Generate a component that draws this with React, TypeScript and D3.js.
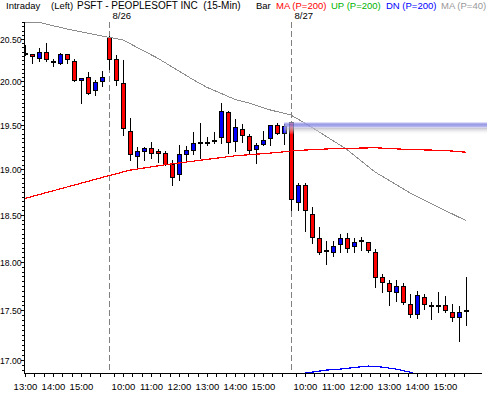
import { useEffect, useRef } from "react";
import * as d3 from "d3";

// 15-min bars: 8/25 from 13:00, 8/26 and 8/27 full sessions
const opens = [
  20.33, 20.32, 20.28, 20.34, 20.24, 20.21, 20.32, 20.24, 20.01, 20.05, 19.9, 20.0,
  20.52, 20.26, 19.98, 19.43, 19.15, 19.2, 19.24, 19.2, 19.18, 19.06, 18.95, 19.17, 19.22, 19.3,
  19.31, 19.33, 19.36, 19.64, 19.32, 19.45, 19.37, 19.23, 19.28, 19.35, 19.5, 19.41,
  19.53, 18.64, 18.83, 18.51, 18.25, 18.13, 18.11, 18.19, 18.25, 18.17, 18.23, 18.21, 18.1,
  17.84, 17.78, 17.69, 17.75, 17.56, 17.46, 17.64, 17.55, 17.55, 17.55, 17.48, 17.43, 17.5,
];
const highs = [
  20.43, 20.32, 20.39, 20.45, 20.26, 20.33, 20.32, 20.26, 20.04, 20.11, 20.02, 20.12,
  20.53, 20.31, 20.25, 19.58, 19.25, 19.25, 19.3, 19.23, 19.2, 19.1, 19.27, 19.26, 19.42, 19.52,
  19.36, 19.42, 19.75, 19.66, 19.56, 19.51, 19.4, 19.29, 19.43, 19.5, 19.52, 19.51,
  19.53, 18.85, 18.85, 18.59, 18.37, 18.22, 18.22, 18.3, 18.31, 18.25, 18.26, 18.21, 18.14,
  17.87, 17.81, 17.81, 17.78, 17.67, 17.7, 17.67, 17.58, 17.69, 17.65, 17.56, 17.54, 17.84,
];
const lows = [
  20.31, 20.21, 20.24, 20.24, 20.18, 20.2, 20.21, 20.0, 19.75, 19.85, 19.84, 19.94,
  20.15, 19.96, 19.38, 19.1, 19.0, 19.1, 19.13, 19.08, 19.05, 18.83, 18.88, 19.08, 19.17, 19.13,
  19.27, 19.29, 19.29, 19.18, 19.2, 19.31, 19.17, 19.07, 19.27, 19.27, 19.4, 19.28,
  18.55, 18.55, 18.33, 18.2, 18.08, 17.98, 18.06, 18.1, 18.1, 18.11, 18.13, 18.1, 17.74,
  17.69, 17.55, 17.6, 17.56, 17.43, 17.42, 17.51, 17.41, 17.48, 17.48, 17.39, 17.19, 17.35,
];
const closes = [
  20.32, 20.3, 20.34, 20.26, 20.24, 20.32, 20.26, 20.01, 20.04, 19.87, 19.99, 20.05,
  20.26, 20.02, 19.46, 19.17, 19.2, 19.24, 19.18, 19.18, 19.06, 18.92, 19.17, 19.21, 19.29, 19.3,
  19.3, 19.33, 19.66, 19.31, 19.47, 19.38, 19.22, 19.27, 19.33, 19.5, 19.41, 19.49,
  18.67, 18.83, 18.55, 18.26, 18.11, 18.13, 18.17, 18.25, 18.15, 18.21, 18.23, 18.13, 17.84,
  17.79, 17.7, 17.75, 17.58, 17.46, 17.66, 17.56, 17.55, 17.55, 17.5, 17.43, 17.48, 17.5,
];

// [bar index, value]
const ma200 = [[0, 18.68], [12, 18.93], [15, 18.99], [20, 19.05], [25, 19.1], [30, 19.15], [35, 19.18], [39, 19.21], [44, 19.23], [50, 19.24], [55, 19.22], [60, 19.21], [63, 19.19]];
const ma40 = [[0, 20.7], [2, 20.7], [6, 20.62], [12, 20.52], [14, 20.49], [16, 20.4], [19, 20.27], [24, 20.02], [26, 19.93], [30, 19.79], [32, 19.75], [35, 19.67], [38, 19.61], [41, 19.47], [46, 19.22], [50, 18.97], [55, 18.74], [60, 18.55], [63, 18.44]];
const dnBand = [[38, 16.8], [40, 16.87], [41, 16.88], [43, 16.9], [45, 16.91], [47, 16.925], [49, 16.94], [51, 16.93], [53, 16.91], [55, 16.88], [56, 16.86], [58, 16.82]];
const levelPrice = 19.5;
const levelFromBar = 37;

const dayStarts = [0, 12, 38];
const dayOpenMin = [13 * 60, 9 * 60 + 30, 9 * 60 + 30];
const dayLabels = ["", "8/26", "8/27"];
const hourLabels = [
  ["13:00", "14:00", "15:00"],
  ["10:00", "11:00", "12:00", "13:00", "14:00", "15:00"],
  ["10:00", "11:00", "12:00", "13:00", "14:00", "15:00"],
];
const priceTicks = [17.0, 17.5, 18.0, 18.5, 19.0, 19.5, 20.0, 20.5];
const legendItems = [
  { text: "Bar", color: "#000000" },
  { text: "MA (P=200)", color: "#ff0000" },
  { text: "UP (P=200)", color: "#00b400" },
  { text: "DN (P=200)", color: "#0000ff" },
  { text: "MA (P=40)", color: "#999999" },
];

export default function App() {
  const ref = useRef<SVGSVGElement>(null);

  useEffect(() => {
    const W = 487, H = 393;
    const left = 25, top = 22, bottom = 373, axisEnd = 482;
    const font = "'Liberation Sans Narrow', 'Arial Narrow', 'Liberation Sans', sans-serif";
    const svg = d3.select(ref.current);
    svg.selectAll("*").remove();

    const x = d3.scaleLinear().domain([0, 65]).range([25, 480]);
    const y = d3.scaleLog().domain([17, 20.5]).range([360, 39]);
    const px = (i: number) => Math.round(x(i));
    const py = (v: number) => Math.round(y(v));

    svg.append("rect").attr("width", W).attr("height", H).attr("fill", "#fff");

    const defs = svg.append("defs");
    defs.append("clipPath").attr("id", "plotClip")
      .append("rect").attr("x", left).attr("y", top).attr("width", W - left).attr("height", bottom - top);

    const bandGrad = defs.append("linearGradient").attr("id", "bandGrad")
      .attr("x1", 0).attr("y1", 0).attr("x2", 0).attr("y2", 1);
    bandGrad.append("stop").attr("offset", "0%").attr("stop-color", "#d0d0f6");
    bandGrad.append("stop").attr("offset", "35%").attr("stop-color", "#8080e0");
    bandGrad.append("stop").attr("offset", "70%").attr("stop-color", "#9494e4");
    bandGrad.append("stop").attr("offset", "100%").attr("stop-color", "#cacaf0");
    const shadowGrad = defs.append("linearGradient").attr("id", "shadowGrad")
      .attr("x1", 0).attr("y1", 0).attr("x2", 0).attr("y2", 1);
    shadowGrad.append("stop").attr("offset", "0%").attr("stop-color", "#b0b0bc").attr("stop-opacity", 0.8);
    shadowGrad.append("stop").attr("offset", "100%").attr("stop-color", "#ffffff").attr("stop-opacity", 0);

    // header
    const header = svg.append("g").attr("font-family", font).attr("font-size", 9.5).attr("fill", "#000");
    header.append("text").attr("x", 6).attr("y", 9).text("Intraday");
    header.append("text").attr("x", 51).attr("y", 9).text("(Left)");
    header.append("text").attr("x", 77).attr("y", 9).attr("font-size", 10)
      .style("white-space", "pre").text("PSFT - PEOPLESOFT INC  (15-Min)");
    const legendX = [256, 276, 331, 386, 441];
    legendItems.forEach((d, i) => {
      header.append("text").attr("x", legendX[i]).attr("y", 9).attr("fill", d.color).text(d.text);
    });

    // day separators
    dayStarts.forEach((s, i) => {
      if (!dayLabels[i]) return;
      const sx = px(s) + 0.5;
      svg.append("line")
        .attr("x1", sx).attr("x2", sx).attr("y1", top).attr("y2", bottom)
        .attr("stroke", "#808080").attr("stroke-dasharray", "6,3");
      svg.append("text").attr("x", sx + 3).attr("y", 19)
        .attr("font-family", font).attr("font-size", 9.5).text(dayLabels[i]);
    });

    const plot = svg.append("g").attr("clip-path", "url(#plotClip)");

    // candles
    const bars = d3.range(opens.length).map((i) => ({
      i, o: opens[i], h: highs[i], l: lows[i], c: closes[i],
    }));
    const candle = plot.append("g").selectAll("g").data(bars).join("g");
    candle.append("line")
      .attr("x1", (d) => px(d.i) + 0.5).attr("x2", (d) => px(d.i) + 0.5)
      .attr("y1", (d) => py(d.h)).attr("y2", (d) => py(d.l) + 1)
      .attr("stroke", "#000").attr("stroke-width", 1);
    candle.append("rect")
      .attr("x", (d) => px(d.i) - 1.5)
      .attr("y", (d) => Math.min(py(d.o), py(d.c)) + 0.5)
      .attr("width", 4)
      .attr("height", (d) => Math.max(1, Math.abs(py(d.o) - py(d.c))))
      .attr("fill", (d) => (d.c > d.o ? "#0000ff" : d.c < d.o ? "#ff0000" : "#000"))
      .attr("stroke", "#000").attr("stroke-width", 1);

    // indicator lines
    const line = d3.line<number[]>().x((d) => x(d[0])).y((d) => y(d[1]));
    plot.append("path").attr("d", line(ma40)).attr("fill", "none")
      .attr("stroke", "#8c8c8c").attr("stroke-width", 1).attr("shape-rendering", "crispEdges");
    plot.append("path").attr("d", line(ma200)).attr("fill", "none")
      .attr("stroke", "#ff0000").attr("stroke-width", 1.2).attr("shape-rendering", "crispEdges");
    plot.append("path").attr("d", line(dnBand)).attr("fill", "none")
      .attr("stroke", "#0000ff").attr("stroke-width", 1.2).attr("shape-rendering", "crispEdges");

    // horizontal level marker
    const ly = y(levelPrice);
    svg.append("rect").attr("x", x(levelFromBar)).attr("y", ly + 3).attr("width", W - x(levelFromBar)).attr("height", 7)
      .attr("fill", "url(#shadowGrad)");
    svg.append("rect").attr("x", x(levelFromBar)).attr("y", ly - 2.5).attr("width", W - x(levelFromBar)).attr("height", 5.5)
      .attr("fill", "url(#bandGrad)").attr("opacity", 0.8);

    // y axis
    const yAxis = svg.append("g").attr("font-family", font).attr("font-size", 8.6);
    yAxis.append("line").attr("x1", 24.5).attr("x2", 24.5).attr("y1", top).attr("y2", bottom + 1).attr("stroke", "#000");
    const minor = d3.range(1690, 2071, 5).map((v) => v / 100).filter((v) => y(v) >= top && y(v) <= bottom);
    yAxis.selectAll("line.minor").data(minor).join("line").attr("class", "minor")
      .attr("x1", 22).attr("x2", 24).attr("y1", (d) => py(d) + 0.5).attr("y2", (d) => py(d) + 0.5)
      .attr("stroke", "#000");
    yAxis.selectAll("line.major").data(priceTicks).join("line").attr("class", "major")
      .attr("x1", 21).attr("x2", 24).attr("y1", (d) => py(d) + 0.5).attr("y2", (d) => py(d) + 0.5)
      .attr("stroke", "#000");
    yAxis.selectAll("text").data(priceTicks).join("text")
      .attr("x", 21.5).attr("y", (d) => py(d) + 3.5).attr("text-anchor", "end")
      .text((d) => d3.format(".2f")(d));

    // x axis
    const xAxis = svg.append("g").attr("font-family", font).attr("font-size", 9.5);
    xAxis.append("line").attr("x1", 24).attr("x2", axisEnd).attr("y1", bottom + 0.5).attr("y2", bottom + 0.5).attr("stroke", "#000");
    const ticks: number[] = [];
    const labels: { pos: number; text: string }[] = [];
    dayStarts.forEach((s, di) => {
      const open = dayOpenMin[di];
      for (let m = Math.ceil(open / 20) * 20; m < 16 * 60; m += 20) ticks.push(s + (m - open) / 15);
      hourLabels[di].forEach((t) => {
        const m = +t.split(":")[0] * 60;
        labels.push({ pos: s + (m - open) / 15, text: t });
      });
    });
    xAxis.selectAll("line.tick").data(ticks).join("line").attr("class", "tick")
      .attr("x1", (d) => px(d) + 0.5).attr("x2", (d) => px(d) + 0.5)
      .attr("y1", bottom).attr("y2", bottom + 4).attr("stroke", "#000");
    xAxis.selectAll("text").data(labels).join("text")
      .attr("x", (d) => px(d.pos) + 0.5).attr("y", 390).attr("text-anchor", "middle")
      .text((d) => d.text);
  }, []);

  return (
    <svg
      ref={ref}
      width={487}
      height={393}
      style={{ position: "absolute", left: 0, top: 0, display: "block" }}
    />
  );
}
